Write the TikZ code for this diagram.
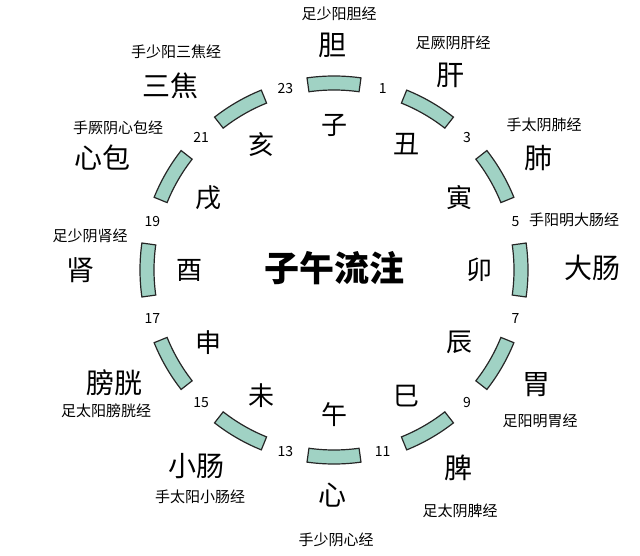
\documentclass[tikz,border=0pt]{standalone}
\usepackage{fontspec}
\setmainfont{Noto Sans CJK SC}
\newfontfamily\cjk{Noto Sans CJK SC}
\definecolor{segfill}{RGB}{160,210,196}

\begin{document}
\begin{tikzpicture}[x=1pt,y=-1pt]
\tikzset{
  seg/.style={draw=black!85, line width=1.2pt, fill=segfill},
  organ/.style={font=\cjk\fontsize{28}{28}\selectfont},
  branch/.style={font=\cjk\fontsize{26}{26}\selectfont},
  hour/.style={font=\fontsize{14}{14}\selectfont},
  meridian/.style={font=\cjk\fontsize{15}{15}\selectfont}
}
\useasboundingbox (0,0) rectangle (640,556);

\begin{scope}[shift={(334,270)}, yscale=-1]
%segments
\foreach \k in {0,...,11}{
  \pgfmathsetmacro{\a}{90-30*\k}
  \draw[seg] (\a-8:194) arc[start angle=\a-8, end angle=\a+8, radius=194]
    -- (\a+8:180) arc[start angle=\a+8, end angle=\a-8, radius=180] -- cycle;
}
%branches
\foreach \b [count=\k from 0] in {子,丑,寅,卯,辰,巳,午,未,申,酉,戌,亥}{
  \pgfmathsetmacro{\a}{90-30*\k}
  \node[branch] (b\k) at (\a:145) {\b};
}
%hours
\foreach \h [count=\k from 0] in {1,3,5,7,9,11,13,15,17,19,21,23}{
  \pgfmathsetmacro{\a}{75-30*\k}
  \node[hour] (h\h) at (\a:188) {\h};
}
\end{scope}

\node[font=\cjk\bfseries\fontsize{35}{35}\selectfont] (title) at (334,268) {子午流注};

%organs
\node[organ] (dan) at (332,45) {胆};
\node[organ] (gan) at (450,75) {肝};
\node[organ] (fei) at (538,158) {肺};
\node[organ] (dachang) at (592,268) {大肠};
\node[organ] (wei) at (536,385) {胃};
\node[organ] (pi) at (458,468) {脾};
\node[organ] (xin) at (332,495) {心};
\node[organ] (xiaochang) at (196,466) {小肠};
\node[organ] (pangguang) at (114,383) {膀胱};
\node[organ] (shen) at (80,270) {肾};
\node[organ] (xinbao) at (102,158) {心包};
\node[organ] (sanjiao) at (170,86) {三焦};

%meridians
\node[meridian] (m1) at (339,14) {足少阳胆经};
\node[meridian] (m2) at (453,43) {足厥阴肝经};
\node[meridian] (m3) at (544,125) {手太阴肺经};
\node[meridian] (m4) at (574,220) {手阳明大肠经};
\node[meridian] (m5) at (540,421) {足阳明胃经};
\node[meridian] (m6) at (460,511) {足太阴脾经};
\node[meridian] (m7) at (336,540) {手少阴心经};
\node[meridian] (m8) at (200,497) {手太阳小肠经};
\node[meridian] (m9) at (106,411) {足太阳膀胱经};
\node[meridian] (m10) at (90,236) {足少阴肾经};
\node[meridian] (m11) at (118,128) {手厥阴心包经};
\node[meridian] (m12) at (176,52) {手少阳三焦经};
\end{tikzpicture}
\end{document}
